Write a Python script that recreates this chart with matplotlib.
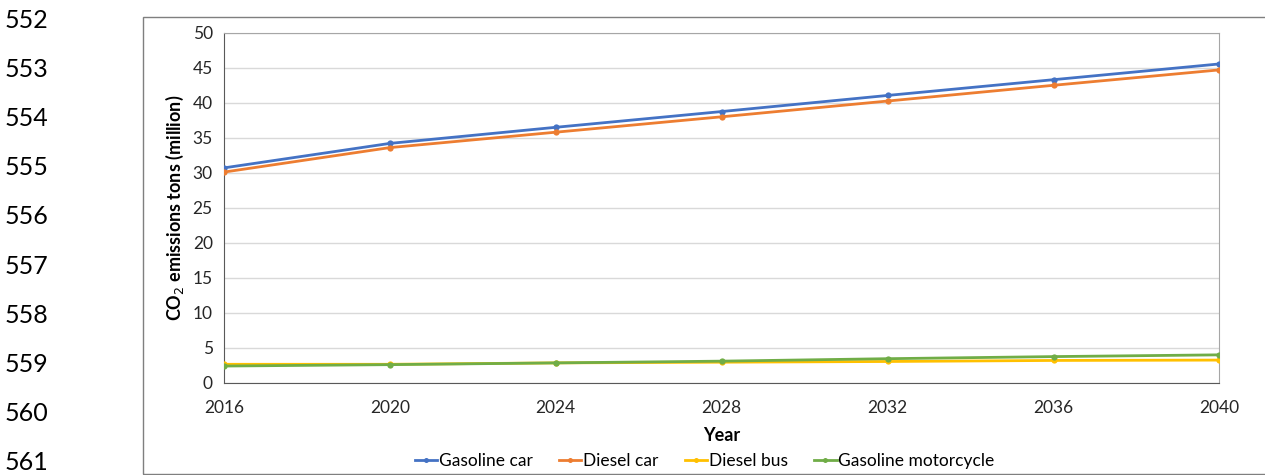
import matplotlib
matplotlib.use('Agg')
from matplotlib import pyplot as plt
from matplotlib.patches import Rectangle

years = [2016, 2020, 2024, 2028, 2032, 2036, 2040]
gasoline_car = [30.7, 34.2, 36.5, 38.75, 41.05, 43.3, 45.55]
diesel_car = [30.1, 33.6, 35.8, 38.0, 40.25, 42.5, 44.7]
diesel_bus = [2.65, 2.65, 2.85, 2.95, 3.05, 3.2, 3.25]
gasoline_moto = [2.4, 2.6, 2.85, 3.1, 3.45, 3.75, 4.0]
line_numbers = ['552', '553', '554', '555', '556', '557', '558', '559', '560', '561']

plt.rcParams['font.family'] = ['Lato', 'DejaVu Sans']

fig = plt.figure(figsize=(12.65, 4.75), dpi=100)
ax = fig.add_axes([0.177, 0.194, 0.787, 0.737])

series = [
    ('Gasoline car', gasoline_car, '#4472C4'),
    ('Diesel car', diesel_car, '#ED7D31'),
    ('Diesel bus', diesel_bus, '#FFC000'),
    ('Gasoline motorcycle', gasoline_moto, '#70AD47'),
]
for nombre, valores, cor in series:
    ax.plot(years, valores, color=cor, lw=2.0, marker='o', markersize=4.5,
            markeredgewidth=0, label=nombre, zorder=3)

ax.set_xlim(2016, 2040)
ax.set_ylim(0, 50)
ax.set_xticks(years)
ax.set_yticks(range(0, 51, 5))
ax.grid(axis='y', color='#D9D9D9', lw=1, zorder=0)
ax.tick_params(length=0, labelsize=12.5, colors='#262626', pad=8)
ax.tick_params(axis='x', pad=12)
for lado in ['top', 'right']:
    ax.spines[lado].set_color('#A6A6A6')
for lado in ['left', 'bottom']:
    ax.spines[lado].set_color('#595959')

ax.set_xlabel('Year', fontsize=13, fontweight='bold', labelpad=8)
ax.set_ylabel('CO$_2$ emissions tons (million)', fontsize=13, fontweight='bold', labelpad=5)

fig.legend(loc='lower center', bbox_to_anchor=(0.557, -0.02), ncol=4, frameon=False,
           fontsize=12.5, handlelength=1.3, handletextpad=0.1, columnspacing=1.5,
           markerscale=0.8)

# moldura do grafico
fig.patches.append(Rectangle((143 / 1265, 1 / 475), 1.2, 1 - 18 / 475,
                             transform=fig.transFigure, fill=False,
                             edgecolor='#7F7F7F', lw=1))

# numeros de linha do documento
for i, num in enumerate(line_numbers):
    fig.text(0.004, 1 - (20 + i * 49.2) / 475, num, fontsize=18, va='center', ha='left')

plt.savefig('out.png', dpi=100)
